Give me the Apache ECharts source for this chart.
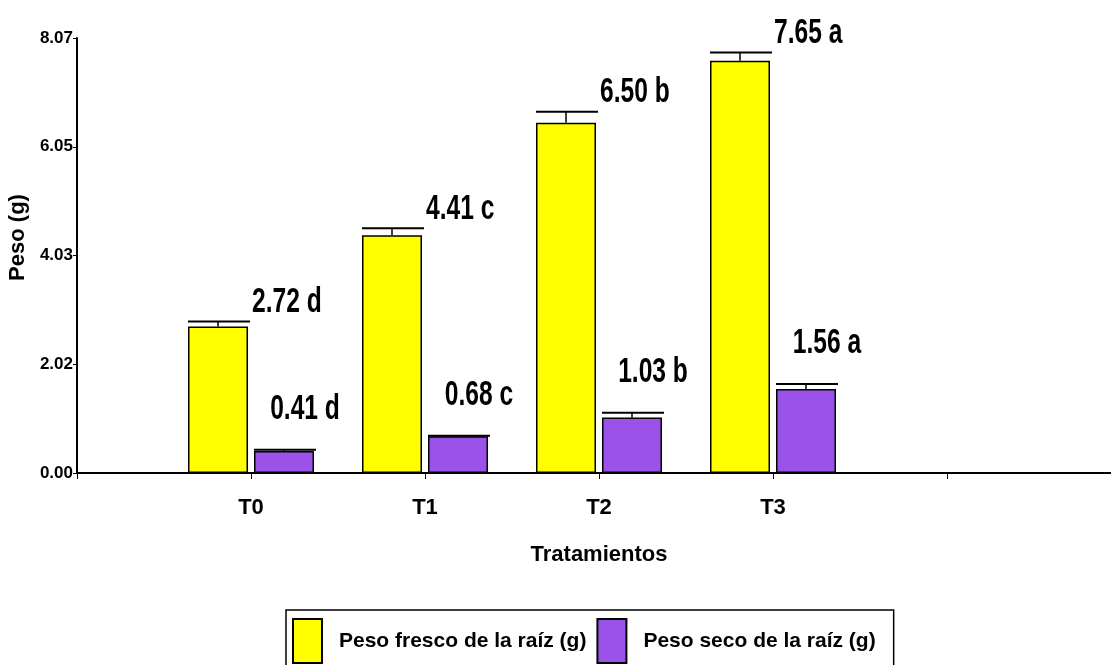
<!DOCTYPE html>
<html>
<head>
<meta charset="utf-8">
<script src="https://cdn.jsdelivr.net/npm/echarts@6/dist/echarts.min.js"></script>
<style>
  html, body { margin: 0; padding: 0; background: #fff; }
  #chart { width: 1111px; height: 665px; }
</style>
</head>
<body>
<div id="chart"></div>
<script>
// Root weight per treatment (g), with standard error and Tukey letters
const categories = ['T0', 'T1', 'T2', 'T3'];
const freshWeight = [2.72, 4.41, 6.50, 7.65];
const freshError = [0.09, 0.13, 0.20, 0.15];
const freshLetters = ['d', 'c', 'b', 'a'];
const dryWeight = [0.41, 0.68, 1.03, 1.56];
const dryError = [0.02, 0.01, 0.09, 0.09];
const dryLetters = ['d', 'c', 'b', 'a'];
const yTickLabels = ['0.00', '2.02', '4.03', '6.05', '8.07'];
const yMax = 8.07;
const seriesNames = ['Peso fresco de la raíz (g)', 'Peso seco de la raíz (g)'];

const FONT = "'Liberation Sans', Arial, sans-serif";
const BAR_W = 60;
const BAR_GAP = 6;
const yStep = yMax / (yTickLabels.length - 1);

// Empty slots around the treatments so T0..T3 land on ticks 1..4
const axisCats = [''].concat(categories, ['', '']);
const pad = arr => ['-'].concat(arr, ['-', '-']);

function errorItems(values, errors) {
  return values.map((v, i) => [i + 1, v, errors[i]]);
}

// side: -1 for the left bar of a pair, +1 for the right one
function errorRenderer(side, letters) {
  return function (params, api) {
    const cat = api.value(0);
    const v = api.value(1);
    const e = api.value(2);
    const top = api.coord([cat, v]);
    const cap = api.coord([cat, v + e]);
    const cx = top[0] + side * (BAR_W + BAR_GAP) / 2;
    const half = BAR_W / 2;
    const text = v.toFixed(2) + ' ' + letters[params.dataIndex];
    const label = side < 0
      ? { x: top[0] + 1, y: cap[1] - 2, align: 'left' }
      : { x: cx + 21, y: cap[1] - 23, align: 'center' };
    return {
      type: 'group',
      children: [
        { type: 'line', shape: { x1: cx, y1: top[1], x2: cx, y2: cap[1] },
          style: { stroke: '#000', lineWidth: 1.5 } },
        { type: 'line', shape: { x1: cx - half, y1: cap[1], x2: cx + half + 2, y2: cap[1] },
          style: { stroke: '#000', lineWidth: 2 } },
        // condensed, tall value label
        { type: 'text', x: label.x, y: label.y, scaleX: 0.82, scaleY: 1.15,
          style: { x: 0, y: 0, text: text, fill: '#000', align: label.align,
                   verticalAlign: 'bottom', font: 'bold 30px ' + FONT } }
      ]
    };
  };
}

const chart = echarts.init(document.getElementById('chart'), null, { renderer: 'canvas' });

chart.setOption({
  animation: false,
  backgroundColor: '#fff',
  grid: { left: 77, right: -10, top: 38, bottom: 192, outerBoundsMode: 'none', containLabel: false },
  xAxis: {
    type: 'category',
    data: axisCats,
    boundaryGap: false,
    axisLine: { lineStyle: { color: '#000', width: 2 } },
    axisTick: { show: true, length: 6, interval: 0, lineStyle: { color: '#000', width: 1 } },
    axisLabel: { interval: 0, margin: 24, color: '#000', fontFamily: FONT, fontWeight: 'bold', fontSize: 22 },
    name: 'Tratamientos',
    nameLocation: 'middle',
    nameGap: 71,
    nameTextStyle: { color: '#000', fontFamily: FONT, fontWeight: 'bold', fontSize: 22 }
  },
  yAxis: {
    type: 'value',
    min: 0,
    max: yMax,
    interval: yStep,
    axisLine: { show: true, lineStyle: { color: '#000', width: 2 } },
    axisTick: { show: true, length: 4, lineStyle: { color: '#000', width: 1 } },
    splitLine: { show: false },
    axisLabel: {
      margin: 4,
      color: '#000',
      fontFamily: FONT,
      fontWeight: 'bold',
      fontSize: 17,
      formatter: v => yTickLabels[Math.round(v / yStep)]
    },
    name: 'Peso (g)',
    nameLocation: 'middle',
    nameRotate: 90,
    nameGap: 39,
    nameTextStyle: {
      color: '#000', fontFamily: FONT,
      fontWeight: 'bold', fontSize: 22, padding: [0, 0, 0, 36]
    }
  },
  legend: {
    data: seriesNames,
    left: 286,
    top: 610,
    icon: 'rect',
    itemWidth: 29,
    itemHeight: 44,
    itemGap: 10,
    borderColor: '#000',
    borderWidth: 1.5,
    padding: [8, 18, 12, 6],
    textStyle: { color: '#000', fontFamily: FONT, fontWeight: 'bold', fontSize: 21, padding: [0, 0, 0, 12] }
  },
  series: [
    {
      name: seriesNames[0],
      type: 'bar',
      data: pad(freshWeight),
      barWidth: BAR_W,
      barGap: '10%',
      itemStyle: { color: '#ffff00', borderColor: '#000', borderWidth: 1.5 }
    },
    {
      name: seriesNames[1],
      type: 'bar',
      data: pad(dryWeight),
      barWidth: BAR_W,
      barGap: '10%',
      itemStyle: { color: '#9b52e8', borderColor: '#000', borderWidth: 1.5 }
    },
    {
      name: 'fresh-error',
      type: 'custom',
      z: 5,
      renderItem: errorRenderer(-1, freshLetters),
      data: errorItems(freshWeight, freshError)
    },
    {
      name: 'dry-error',
      type: 'custom',
      z: 5,
      renderItem: errorRenderer(1, dryLetters),
      data: errorItems(dryWeight, dryError)
    }
  ]
});
</script>
</body>
</html>
